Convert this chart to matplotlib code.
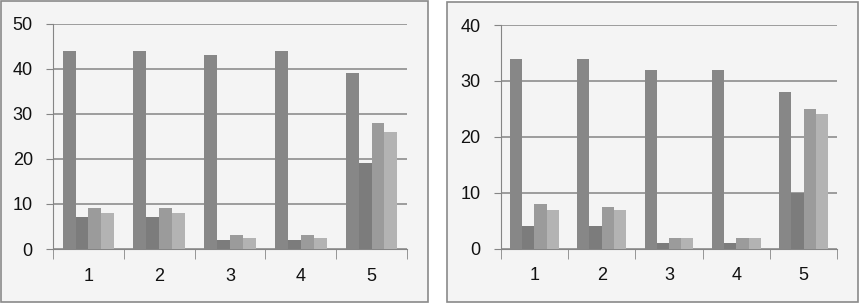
import numpy as np
import matplotlib.pyplot as plt
from matplotlib.patches import Rectangle

# values
categories = ["1", "2", "3", "4", "5"]
left_s1 = [44, 44, 43, 44, 39]
left_s2 = [7, 7, 2, 2, 19]
left_s3 = [9, 9, 3, 3, 28]
left_s4 = [8, 8, 2.5, 2.5, 26]
right_s1 = [34, 34, 32, 32, 28]
right_s2 = [4, 4, 1, 1, 10]
right_s3 = [8, 7.5, 2, 2, 25]
right_s4 = [7, 7, 2, 2, 24]

colors = ["#878787", "#7c7c7c", "#9b9b9b", "#b3b3b3"]
W, H = 860, 303

fig = plt.figure(figsize=(W / 100, H / 100), dpi=100)
fig.patch.set_facecolor("white")


def px(x0, y0, x1, y1):
    # pixel box -> figure fraction rect
    return [x0 / W, 1 - y1 / H, (x1 - x0) / W, (y1 - y0) / H]


def panel(frame, box, series, ymax):
    rect = Rectangle((frame[0] / W, 1 - frame[3] / H),
                     (frame[2] - frame[0]) / W, (frame[3] - frame[1]) / H,
                     transform=fig.transFigure, facecolor="#f4f4f4",
                     edgecolor="#8a8a8a", linewidth=1.2, zorder=-5)
    fig.add_artist(rect)
    ax = fig.add_axes(px(*box))
    ax.set_zorder(2)
    ax.set_facecolor("none")
    x = np.arange(len(categories))
    w = 1 / (4 + 1.5)
    for i, vals in enumerate(series):
        ax.bar(x + (i - 1.5) * w, vals, w, color=colors[i], zorder=3)
    ax.set_xlim(-0.5, len(categories) - 0.5)
    ax.set_ylim(0, ymax)
    ax.set_yticks(np.arange(0, ymax + 1, 10))
    ax.set_axisbelow(True)
    ax.yaxis.grid(True, color="#858585", linewidth=1.1)
    ax.set_xticks(x, categories)
    ax.set_xticks(np.arange(-0.5, len(categories)), minor=True)
    ax.tick_params(axis="x", which="major", length=0, pad=13.5, labelsize=13)
    ax.tick_params(axis="x", which="minor", length=7, color="#858585", direction="out")
    ax.tick_params(axis="y", length=5, color="#858585", pad=9.5, labelsize=13)
    for s in ("top", "right"):
        ax.spines[s].set_visible(False)
    for s in ("left", "bottom"):
        ax.spines[s].set_color("#858585")
    for lab in ax.get_xticklabels() + ax.get_yticklabels():
        lab.set_fontfamily("Liberation Sans")
        lab.set_color("#111111")
    return ax


panel((0.6, 0.6, 427.7, 301.7), (53, 23.5, 407, 249),
      [left_s1, left_s2, left_s3, left_s4], 50)
panel((447.3, 2, 857.7, 301.7), (500.7, 25, 837.3, 248.7),
      [right_s1, right_s2, right_s3, right_s4], 40)

fig.savefig("out.png", dpi=100)
